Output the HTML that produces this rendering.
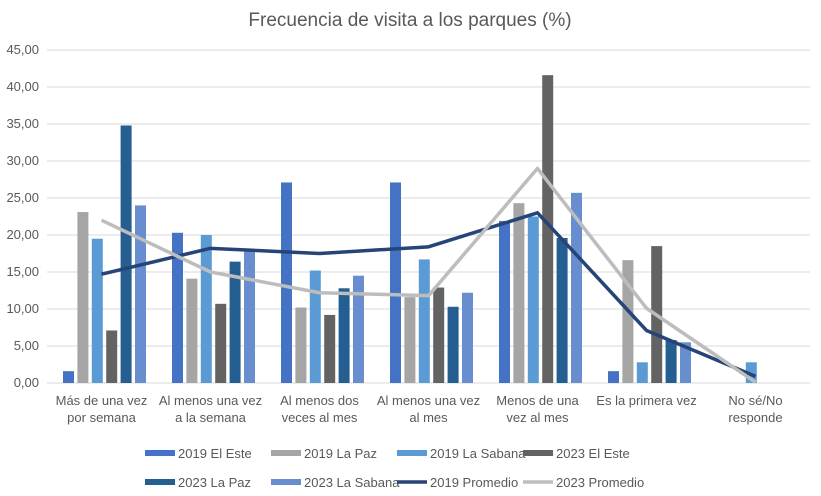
<!DOCTYPE html>
<html><head><meta charset="utf-8"><style>
body{margin:0;background:#fff;font-family:"Liberation Sans",sans-serif;}
svg text{font-family:"Liberation Sans",sans-serif;fill:#595959;}
</style></head><body>
<svg id="c" width="821" height="491">
<text x="410" y="26" text-anchor="middle" font-size="19">Frecuencia de visita a los parques (%)</text>
<g id="grid"></g><g id="bars"></g><g id="lines"></g><g id="labels"></g><g id="legend"></g>
</svg>
<script>
const categories=[["Más de una vez","por semana"],["Al menos una vez","a la semana"],["Al menos dos","veces al mes"],["Al menos una vez","al mes"],["Menos de una","vez al mes"],["Es la primera vez"],["No sé/No","responde"]];
const barSeriesNames=["2019 El Este","2019 La Paz","2019 La Sabana","2023 El Este","2023 La Paz","2023 La Sabana"];
const este2019=[1.6,20.3,27.1,27.1,21.9,1.6,0];
const paz2019=[23.1,14.1,10.2,11.6,24.3,16.6,0];
const sabana2019=[19.5,20.0,15.2,16.7,22.5,2.8,2.8];
const este2023=[7.1,10.7,9.2,12.9,41.6,18.5,0];
const paz2023=[34.8,16.4,12.8,10.3,19.6,5.8,0];
const sabana2023=[24.0,18.0,14.5,12.2,25.7,5.5,0];
const prom2019=[14.7,18.2,17.5,18.4,23.0,7.1,0.9];
const prom2023=[22.0,15.0,12.2,11.8,29.0,10.1,0.1];
const yTicks=[0,5,10,15,20,25,30,35,40,45];
const barColors=["#4472C4","#A5A5A5","#5B9BD5","#636363","#255E91","#698ED0"];
const lineColors=["#264478","#BDBDBD"];
const NS="http://www.w3.org/2000/svg";
const x0=47,x1=810,y0=383,yTop=50,yMax=45;
const band=(x1-x0)/categories.length;
const y=v=>y0-(v/yMax)*(y0-yTop);
const xc=i=>x0+band*(i+0.5);
function mk(t,a,p){const e=document.createElementNS(NS,t);for(const k in a)e.setAttribute(k,a[k]);document.getElementById(p).appendChild(e);return e;}
yTicks.forEach(t=>{
 const l=mk("line",{x1:x0,x2:x1,y1:y(t),y2:y(t),stroke:"#D9D9D9","stroke-width":1},"grid");
 
 
 const tx=mk("text",{x:39,y:y(t)+4,"text-anchor":"end","font-size":13},"labels");
 tx.textContent=t.toFixed(2).replace(".",",");
 
 
});
const series=[este2019,paz2019,sabana2019,este2023,paz2023,sabana2023];
const step=14.4,bw=11;
series.forEach((s,si)=>s.forEach((v,i)=>{
 const bx=xc(i)-3*step+si*step+(step-bw)/2+3;
 const r=mk("rect",{x:bx,y:y(v),width:bw,height:y0-y(v),fill:barColors[si]},"bars");
 
 
}));
[prom2019,prom2023].forEach((s,li)=>{
 const p=mk("polyline",{points:s.map((v,i)=>xc(i)+","+y(v)).join(" "),fill:"none",stroke:lineColors[li],"stroke-width":3.5,"stroke-linejoin":"round"},"lines");
 
 
});
categories.forEach((c,i)=>c.forEach((ln,j)=>{
 const t=mk("text",{x:xc(i),y:405+j*17,"text-anchor":"middle","font-size":13},"labels");
 t.textContent=ln;
 
 
}));
const legNames=barSeriesNames.concat(["2019 Promedio","2023 Promedio"]);
const legColors=barColors.concat(lineColors);
const cols=[145,271,397,523];
legNames.forEach((n,i)=>{
 const cx=cols[i%4],cy=i<4?453:482;
 if(i<6){const r=mk("rect",{x:cx,y:cy-3,width:30,height:6,fill:legColors[i]},"legend");}
 else{const l=mk("line",{x1:cx,x2:cx+30,y1:cy,y2:cy,stroke:legColors[i],"stroke-width":3.5},"legend");}
 const t=mk("text",{x:cx+33,y:cy+5,"font-size":13},"legend");
 t.textContent=n;
 
 
});
</script>
</body></html>
